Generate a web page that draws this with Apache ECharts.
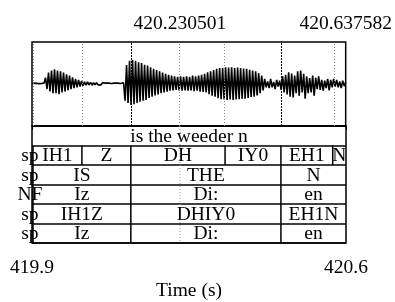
<!DOCTYPE html>
<html>
<head>
<meta charset="utf-8">
<script src="https://cdn.jsdelivr.net/npm/echarts@6/dist/echarts.min.js"></script>
<style>
  html, body { margin: 0; padding: 0; background: #fff; }
  #main { width: 395px; height: 302px; }
</style>
</head>
<body>
<div id="main"></div>
<script>
// time window (s) and cursor
var t0 = 419.8676;
var t1 = 420.637582;
var cursorTime = 420.230501;

// waveform amplitudes, evenly spaced from t0 to t1
var wave = [
  0.01, -0.01, 0.02, -0.01, 0.01, -0.02, 0.01, -0.01, 0.02,
  0.15, -0.12, 0.27, -0.18, 0.32, -0.22, 0.35, -0.22, 0.32, -0.24,
  0.30, -0.20, 0.27, -0.18, 0.23, -0.15, 0.20, -0.12, 0.16, -0.10,
  0.12, -0.08, 0.10, -0.06, 0.07, -0.04, 0.05, -0.03, 0.05, -0.02,
  0.04, -0.03, 0.03, -0.02, 0.03, -0.02, 0.02, -0.02, 0.03, -0.01,
  0.02, -0.02, 0.02, -0.02, 0.01, -0.01, 0.02, -0.01, 0.02, -0.02,
  0.01, -0.02, 0.03, -0.40, 0.45, -0.45, 0.55, -0.50, 0.57, -0.48,
  0.55, -0.45, 0.52, -0.42, 0.50, -0.40, 0.46, -0.38, 0.44, -0.33,
  0.40, -0.30, 0.36, -0.27, 0.33, -0.25, 0.30, -0.22, 0.27, -0.20,
  0.24, -0.18, 0.22, -0.16, 0.20, -0.15, 0.18, -0.14, 0.17, -0.15,
  0.18, -0.16, 0.17, -0.15, 0.18, -0.16, 0.17, -0.15, 0.20, -0.17,
  0.18, -0.16, 0.20, -0.18, 0.22, -0.19, 0.24, -0.20, 0.28, -0.24,
  0.30, -0.28, 0.33, -0.30, 0.36, -0.34, 0.38, -0.36, 0.38, -0.37,
  0.40, -0.38, 0.39, -0.37, 0.40, -0.38, 0.38, -0.37, 0.39, -0.36,
  0.38, -0.35, 0.37, -0.35, 0.36, -0.33, 0.34, -0.31, 0.32, -0.30,
  0.30, -0.27, 0.26, -0.22, 0.20, -0.15, 0.12, -0.08, 0.06, -0.10,
  0.12, -0.08, 0.05, -0.12, 0.10, -0.06, 0.08, -0.14, 0.18, -0.20,
  0.22, -0.25, 0.28, -0.30, 0.25, -0.32, 0.20, -0.22, 0.30, -0.28,
  0.32, -0.20, 0.24, -0.35, 0.18, -0.22, 0.14, -0.20, 0.20, -0.28,
  0.15, -0.12, 0.18, -0.14, 0.10, -0.16, 0.08, -0.10, 0.12, -0.15,
  0.10, -0.08, 0.12, -0.06, 0.10, -0.08, 0.06, -0.10, 0.08, -0.05,
  0.04
];

// tiers: [start, end, label]
var tierWords = [[t0, t1, 'is the weeder n']];
var tierPhones = [[419.855, 419.870, 'sp'], [419.870, 419.990, 'IH1'], [419.990, 420.110, 'Z'],
  [420.110, 420.341, 'DH'], [420.341, 420.478, 'IY0'], [420.478, 420.605, 'EH1'], [420.605, t1, 'N']];
var tierOrtho = [[419.855, 419.870, 'sp'], [419.870, 420.110, 'IS'], [420.110, 420.478, 'THE'], [420.478, t1, 'N']];
var tierSampa = [[419.855, 419.870, 'NF'], [419.870, 420.110, 'Iz'], [420.110, 420.478, 'Di:'], [420.478, t1, 'en']];
var tierSyll = [[419.855, 419.870, 'sp'], [419.870, 420.110, 'IH1Z'], [420.110, 420.478, 'DHIY0'], [420.478, t1, 'EH1N']];
var tierSampa2 = [[419.855, 419.870, 'sp'], [419.870, 420.110, 'Iz'], [420.110, 420.478, 'Di:'], [420.478, t1, 'en']];
var tiers = [tierWords, tierPhones, tierOrtho, tierSampa, tierSyll, tierSampa2];

var FONT = "'Liberation Serif', 'Times New Roman', serif";
var FS = 19.5;

var waveData = wave.map(function (v, i) {
  return [t0 + i * (t1 - t0) / (wave.length - 1), v];
});

var tierData = [];
tiers.forEach(function (tier, k) {
  tier.forEach(function (iv) {
    tierData.push([iv[0], iv[1], k, iv[2]]);
  });
});

// dotted lines through the waveform at phone boundaries
var waveMarks = tierPhones.slice(1).map(function (iv) {
  var shared = iv[0] === 420.110 || iv[0] === 420.478;
  return { xAxis: iv[0], lineStyle: { color: shared ? '#000' : '#888', type: shared ? [2, 1] : [1, 2], width: 1 } };
});
waveMarks.push({ xAxis: cursorTime, lineStyle: { color: '#888', type: [1, 2], width: 1 } });

var chart = echarts.init(document.getElementById('main'));
var option = {
  animation: false,
  textStyle: { fontFamily: FONT },
  grid: [
    { left: 32, top: 42, width: 314, height: 84, show: true, borderColor: '#000', borderWidth: 1.5 },
    { left: 32, top: 126, width: 314, height: 126, show: true, borderColor: '#000', borderWidth: 1.5 }
  ],
  xAxis: [
    {
      gridIndex: 0, type: 'value', position: 'top', min: t0, max: t1,
      axisLine: { show: false },
      splitLine: { show: false },
      axisTick: { show: true, length: 5, inside: false, customValues: [cursorTime, t1], lineStyle: { color: '#000' } },
      axisLabel: {
        customValues: [cursorTime, t1], margin: 8, color: '#000', fontSize: FS, fontFamily: FONT,
        formatter: function (v) { return v.toFixed(6); }
      }
    },
    {
      gridIndex: 1, type: 'value', position: 'bottom', min: t0, max: t1,
      axisLine: { show: false },
      splitLine: { show: false },
      axisTick: { show: true, length: 4, inside: false, customValues: [t0, t1], lineStyle: { color: '#000' } },
      axisLabel: {
        customValues: [t0, t1], margin: 15, color: '#000', fontSize: FS, fontFamily: FONT,
        formatter: function (v) { return v.toFixed(1); }
      },
      name: 'Time (s)', nameLocation: 'middle', nameGap: 38,
      nameTextStyle: { color: '#000', fontSize: FS, fontFamily: FONT }
    }
  ],
  yAxis: [
    { gridIndex: 0, type: 'value', min: -1, max: 1, show: false },
    {
      gridIndex: 1, type: 'value', min: 0, max: 6, interval: 1, inverse: true,
      axisLine: { show: false }, axisTick: { show: false }, axisLabel: { show: false },
      splitLine: { show: true, lineStyle: { color: '#000', width: 1.5 } }
    }
  ],
  series: [
    {
      // 波形
      type: 'line', xAxisIndex: 0, yAxisIndex: 0, data: waveData,
      showSymbol: false, symbol: 'none', sampling: null,
      lineStyle: { color: '#000', width: 1.6 },
      markLine: { silent: true, symbol: 'none', label: { show: false }, data: waveMarks },
      z: 3
    },
    {
      // cursor through the tiers
      type: 'line', xAxisIndex: 1, yAxisIndex: 1,
      data: [[cursorTime, 0], [cursorTime, 6]],
      symbol: 'none', lineStyle: { color: '#999', type: [1, 2], width: 1 }, z: 1
    },
    {
      // 标注层
      type: 'custom', xAxisIndex: 1, yAxisIndex: 1, data: tierData, clip: false,
      renderItem: function (params, api) {
        var s = api.value(0), e = api.value(1), k = api.value(2);
        var p0 = api.coord([s, k]);
        var p1 = api.coord([e, k + 1]);
        var children = [{
          type: 'text',
          style: {
            text: tierData[params.dataIndex][3],
            x: (p0[0] + p1[0]) / 2, y: (p0[1] + p1[1]) / 2 + 1,
            align: 'center', verticalAlign: 'middle',
            fill: '#000', font: FS + 'px ' + FONT
          }
        }];
        if (s > t0) {
          children.push({
            type: 'line',
            shape: { x1: p0[0], y1: p0[1], x2: p0[0], y2: p1[1] },
            style: { stroke: '#000', lineWidth: 1.5 }
          });
        }
        return { type: 'group', children: children };
      },
      z: 2
    }
  ]
};
chart.setOption(option);
</script>
</body>
</html>
